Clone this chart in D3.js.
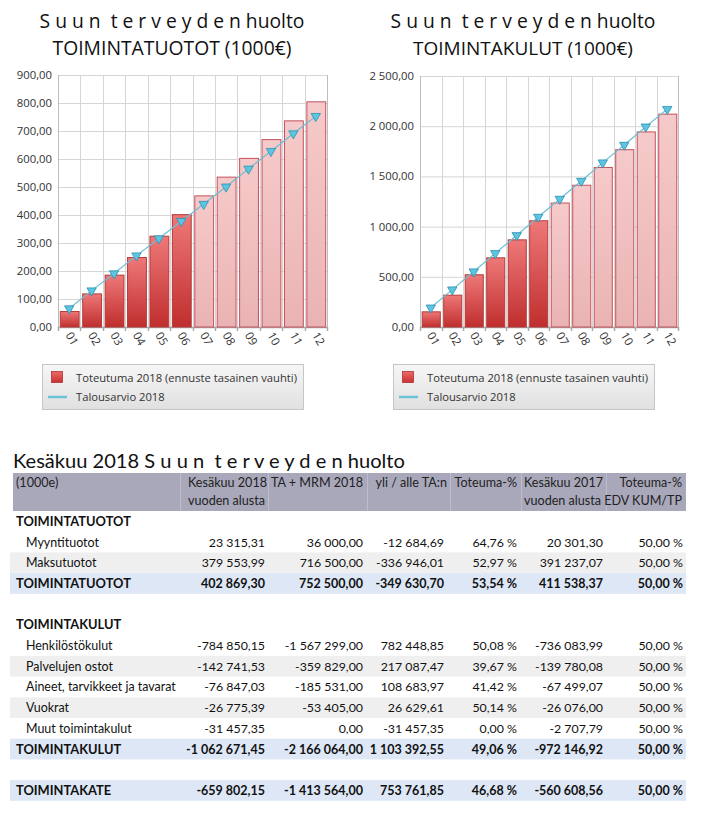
<!DOCTYPE html>
<html><head><meta charset="utf-8">
<script src="https://cdn.jsdelivr.net/npm/d3@7"></script>
<style>
body{margin:0;background:#fff;}
svg{display:block;}
text{white-space:pre;}
</style></head>
<body><svg id="c" width="701" height="815"></svg>
<script>
// ---------- DATA ----------
const months = ["01","02","03","04","05","06","07","08","09","10","11","12"];
const actualMonths = 6; // 01-06 toteutuma, 07-12 ennuste
const tuototActual = [57, 120, 187, 250, 326, 403, 470, 537, 604, 671, 738, 806];
const tuototBudget = [66, 130, 191, 255, 316, 378, 439, 501, 565, 628, 691, 753];
const kulutActual = [156, 322, 525, 694, 873, 1063, 1240, 1417, 1594, 1771, 1948, 2125];
const kulutBudget = [192, 372, 552, 734, 913, 1096, 1275, 1454, 1637, 1813, 1995, 2170];
const tuototTicks = [0,100,200,300,400,500,600,700,800,900];
const kulutTicks = [0,500,1000,1500,2000,2500];
const titleLine1 = "S u u n  t e r v e y d e n huolto";
const legendLabels = ["Toteutuma 2018 (ennuste tasainen vauhti)", "Talousarvio 2018"];

const tableTitle = "Kesäkuu 2018 S u u n  t e r v e y d e n huolto";
const headerLine1 = ["(1000e)", "Kesäkuu 2018", "TA + MRM 2018", "yli / alle TA:n", "Toteuma-%", "Kesäkuu 2017", "Toteuma-%"];
const headerLine2 = ["", "vuoden alusta", "", "", "", "vuoden alusta", "EDV KUM/TP"];
// row type: h = heading, i = item, t = total, b = blank
const rowTypes = ["h","i","i","t","b","h","i","i","i","i","i","t","b","t"];
const rowLabels = ["TOIMINTATUOTOT","Myyntituotot","Maksutuotot","TOIMINTATUOTOT","","TOIMINTAKULUT","Henkilöstökulut","Palvelujen ostot","Aineet, tarvikkeet ja tavarat","Vuokrat","Muut toimintakulut","TOIMINTAKULUT","","TOIMINTAKATE"];
const rowValues = [
  [],
  ["23 315,31","36 000,00","-12 684,69","64,76 %","20 301,30","50,00 %"],
  ["379 553,99","716 500,00","-336 946,01","52,97 %","391 237,07","50,00 %"],
  ["402 869,30","752 500,00","-349 630,70","53,54 %","411 538,37","50,00 %"],
  [],
  [],
  ["-784 850,15","-1 567 299,00","782 448,85","50,08 %","-736 083,99","50,00 %"],
  ["-142 741,53","-359 829,00","217 087,47","39,67 %","-139 780,08","50,00 %"],
  ["-76 847,03","-185 531,00","108 683,97","41,42 %","-67 499,07","50,00 %"],
  ["-26 775,39","-53 405,00","26 629,61","50,14 %","-26 076,00","50,00 %"],
  ["-31 457,35","0,00","-31 457,35","0,00 %","-2 707,79","50,00 %"],
  ["-1 062 671,45","-2 166 064,00","1 103 392,55","49,06 %","-972 146,92","50,00 %"],
  [],
  ["-659 802,15","-1 413 564,00","753 761,85","46,68 %","-560 608,56","50,00 %"]
];
const shadedRows = [2,7,9];

// ---------- SETUP ----------
const svg = d3.select("#c");
const FONT = "'Open Sans', 'Noto Sans', sans-serif";
const TFONT = "Lato, 'Open Sans', sans-serif";
const fi = d3.formatLocale({decimal:",", thousands:"\u00a0", grouping:[3], currency:["","€"]});
const fmt = fi.format(",.2f");

function fit(sel, w){
  const n = sel.node();
  const fs = parseFloat(sel.attr("font-size"));
  const cur = n.getComputedTextLength();
  if (cur > 0) sel.attr("font-size", (fs * w / cur).toFixed(2));
  return sel;
}
function fittedSize(str, family, weight, w){
  const t = svg.append("text").attr("font-family", family).attr("font-weight", weight).attr("font-size", 20).text(str);
  const s = 20 * w / t.node().getComputedTextLength();
  t.remove();
  return s;
}

const defs = svg.append("defs");
function grad(id, c1, c2){
  const g = defs.append("linearGradient").attr("id", id).attr("x1",0).attr("y1",0).attr("x2",0).attr("y2",1);
  g.append("stop").attr("offset","0%").attr("stop-color",c1);
  g.append("stop").attr("offset","100%").attr("stop-color",c2);
}
grad("gAct", "#ee7878", "#c02e2e");
grad("gFc", "#f6caca", "#eab3b3");
grad("gLeg", "#f6f6f6", "#e0e0e0");
grad("gSq", "#ee6a6a", "#c83030");

function drawChart(o){
  const g = svg.append("g");
  const x = d3.scaleBand().domain(months).range([o.x0, o.x1]).padding(0);
  const y = d3.scaleLinear().domain([0, o.ticks[o.ticks.length-1]]).range([o.yBot, o.yTop]);
  // titles
  const t1 = g.append("text").attr("x", o.cx).attr("y", 28).attr("text-anchor","middle")
    .attr("font-family", FONT).attr("font-size", 20).attr("fill","#111").text(titleLine1);
  fit(t1, o.t1w);
  const t2 = g.append("text").attr("x", o.cx).attr("y", 55).attr("text-anchor","middle")
    .attr("font-family", FONT).attr("font-size", 20).attr("fill","#111").text(o.title2);
  fit(t2, o.t2w);
  // grid
  g.append("g").selectAll("line").data(o.ticks).join("line")
    .attr("x1", o.x0).attr("x2", o.x1).attr("y1", d=>y(d)+0.5).attr("y2", d=>y(d)+0.5)
    .attr("stroke", "#d6d6d6");
  const bounds = months.map(m => x(m)).concat([o.x1]);
  g.append("g").selectAll("line").data(bounds).join("line")
    .attr("x1", d=>Math.round(d)+0.5).attr("x2", d=>Math.round(d)+0.5)
    .attr("y1", o.yTop).attr("y2", o.yBot + 4)
    .attr("stroke", (d,i)=> (i===0||i===bounds.length-1) ? "#bdbdbd" : "#d6d6d6");
  // bottom axis line & ticks
  g.append("line").attr("x1", o.x0).attr("x2", o.x1).attr("y1", o.yBot+0.5).attr("y2", o.yBot+0.5).attr("stroke","#a8a8a8").attr("stroke-width",1.5);
  g.append("g").selectAll("line").data(bounds).join("line")
    .attr("x1", d=>Math.round(d)+0.5).attr("x2", d=>Math.round(d)+0.5)
    .attr("y1", o.yBot).attr("y2", o.yBot+4).attr("stroke","#a8a8a8").attr("stroke-width",1.5);
  // y labels
  g.append("g").selectAll("text").data(o.ticks).join("text")
    .attr("x", o.x0 - 6).attr("y", d=>y(d)+4).attr("text-anchor","end")
    .attr("font-family", FONT).attr("font-size", 11.3).attr("fill","#333")
    .text(d=>fmt(d));
  // bars
  const bw = x.bandwidth();
  g.append("g").selectAll("rect").data(o.actual).join("rect")
    .attr("x", (d,i)=> x(months[i]) + bw*0.08 + 0.5)
    .attr("width", bw*0.84)
    .attr("y", d=> y(d)+0.5)
    .attr("height", d=> o.yBot - y(d) - 0.5)
    .attr("fill", (d,i)=> i < actualMonths ? "url(#gAct)" : "url(#gFc)")
    .attr("stroke", (d,i)=> i < actualMonths ? "#b53a3a" : "#c4505c")
    .attr("stroke-width", 1);
  // budget line
  const line = d3.line().x((d,i)=> x(months[i]) + bw/2).y(d=> y(d));
  g.append("path").datum(o.budget).attr("d", line).attr("fill","none").attr("stroke","#6cbfd4").attr("stroke-width",1.2);
  const tri = d3.symbol().type(d3.symbolTriangle).size(38);
  g.append("g").selectAll("path").data(o.budget).join("path")
    .attr("d", tri)
    .attr("transform", (d,i)=> `translate(${x(months[i]) + bw/2},${y(d)}) rotate(180)`)
    .attr("fill", "#5cc6e2").attr("stroke","#2e8fae").attr("stroke-width",0.8);
  // x labels
  g.append("g").selectAll("text").data(months).join("text")
    .attr("transform", m => `translate(${x(m) + bw/2 - 4},${o.yBot + 8}) rotate(60)`)
    .attr("font-family", FONT).attr("font-size", 11.5).attr("fill","#333")
    .text(m=>m);
  // legend
  const lg = g.append("g").attr("transform", `translate(${o.lx},364)`);
  lg.append("rect").attr("x",0.5).attr("y",0.5).attr("width", 261).attr("height", 45)
    .attr("fill","url(#gLeg)").attr("stroke","#c6c6c6");
  lg.append("rect").attr("x",9.5).attr("y",7.5).attr("width",11).attr("height",11)
    .attr("fill","url(#gSq)").attr("stroke","#b03434").attr("stroke-width",0.8);
  lg.append("line").attr("x1",6).attr("x2",25).attr("y1",33).attr("y2",33).attr("stroke","#6cc3d8").attr("stroke-width",2.5);
  const l1 = lg.append("text").attr("x",34).attr("y",18).attr("font-family",FONT).attr("font-size",12).attr("fill","#333").text(legendLabels[0]);
  fit(l1, 221);
  lg.append("text").attr("x",34).attr("y",37).attr("font-family",FONT).attr("font-size",l1.attr("font-size")).attr("fill","#333").text(legendLabels[1]);
}

drawChart({x0:58, x1:327, yTop:75, yBot:327, ticks:tuototTicks, actual:tuototActual, budget:tuototBudget,
  title2:"TOIMINTATUOTOT (1000€)", cx:172, t1w:265, t2w:239, lx:42});
drawChart({x0:420, x1:678, yTop:76, yBot:327, ticks:kulutTicks, actual:kulutActual, budget:kulutBudget,
  title2:"TOIMINTAKULUT (1000€)", cx:523, t1w:265, t2w:220, lx:393});

// ---------- TABLE ----------
const tg = svg.append("g");
const tt = tg.append("text").attr("x", 13).attr("y", 468).attr("font-family", TFONT).attr("font-size", 20).attr("fill","#111").text(tableTitle);
fit(tt, 392);

const labelFs = fittedSize("Aineet, tarvikkeet ja tavarat", TFONT, 400, 150);
const headLabelFs = fittedSize("TOIMINTATUOTOT", TFONT, 700, 115);
const numFs = fittedSize("-1 062 671,45", TFONT, 700, 79);
const numFsN = fittedSize("-139 780,08", TFONT, 400, 68);
const headFs = 12.8;
// horizontal squeeze so header text matches the narrower original face
const headK = fittedSize("vuoden alusta", TFONT, 400, 77) / headFs;

const tx0 = 13, tx1 = 686, hy0 = 473, hy1 = 511, rh = 20.7;
tg.append("rect").attr("x", tx0).attr("y", hy0).attr("width", tx1-tx0).attr("height", hy1-hy0).attr("fill", "#a9a8bb");
const seps = [180, 268, 367, 450, 521, 606];
tg.append("g").selectAll("line").data(seps).join("line")
  .attr("x1", d=>d+0.5).attr("x2", d=>d+0.5).attr("y1", hy0).attr("y2", hy1).attr("stroke","#bdbccb");
const hx = [16, 188, 363, 447, 517, 524, 682];
const hAnchor = ["start","start","end","end","end","start","end"];
function headerRow(data, yb){
  tg.append("g").selectAll("text").data(data).join("text")
    .attr("x", (d,i)=>hx[i]).attr("y", yb).attr("text-anchor",(d,i)=>hAnchor[i])
    .attr("font-family", TFONT).attr("font-size", headFs).attr("fill","#222").text(d=>d)
    .each(function(d){
      if (!d) return;
      const w = this.getComputedTextLength();
      d3.select(this).attr("textLength", (w*headK).toFixed(2)).attr("lengthAdjust","spacingAndGlyphs");
    });
}
headerRow(headerLine1, 487);
headerRow(headerLine2, 505);

const rights = [265, 363, 444, 517, 603, 683];
const ry = d3.scaleLinear().domain([0, 1]).range([hy1, hy1 + rh]);
rowTypes.forEach((type, i) => {
  const y0 = ry(i);
  if (type === "t") tg.append("rect").attr("x", 10).attr("y", y0).attr("width", tx1-10).attr("height", rh).attr("fill", "#dde7f6");
  else if (shadedRows.includes(i)) tg.append("rect").attr("x", 10).attr("y", y0).attr("width", tx1-10).attr("height", rh).attr("fill", "#efefef");
  const bold = (type === "h" || type === "t");
  const base = y0 + rh/2 + 4.5;
  if (rowLabels[i]) {
    tg.append("text").attr("x", type === "i" ? 26 : 16).attr("y", base)
      .attr("font-family", TFONT).attr("font-size", bold ? headLabelFs : labelFs).attr("font-weight", bold ? 700 : 400)
      .attr("fill", "#111").text(rowLabels[i]);
  }
  rowValues[i].forEach((v, j) => {
    tg.append("text").attr("x", rights[j]).attr("y", base).attr("text-anchor","end")
      .attr("font-family", TFONT).attr("font-size", bold ? numFs : numFsN).attr("font-weight", bold ? 700 : 400)
      .attr("fill", "#111").text(v);
  });
});
</script></body></html>
